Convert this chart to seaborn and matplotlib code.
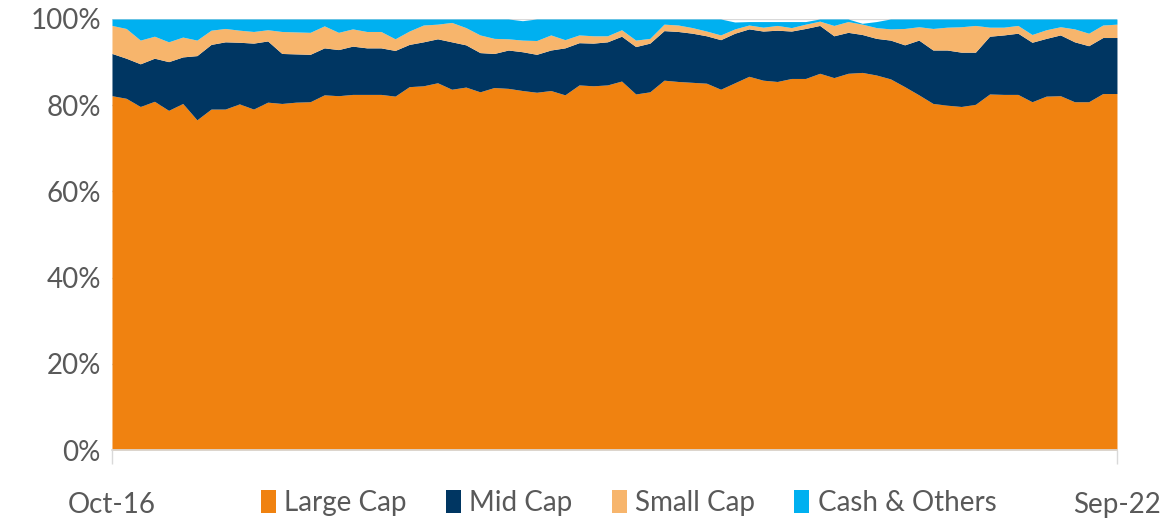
import numpy as np
import pandas as pd
import matplotlib
matplotlib.use("Agg")
import matplotlib.pyplot as plt
import seaborn as sns

# monthly portfolio mix, Oct-16 .. Sep-22 (% of assets)
months = pd.date_range("2016-10-01", periods=72, freq="MS")

large_cap = [82.2, 81.6, 79.7, 80.9, 78.8, 80.4, 76.6, 79.1, 79.1, 80.3, 79.1, 80.7,
             80.4, 80.7, 80.8, 82.4, 82.2, 82.5, 82.5, 82.5, 82.1, 84.3, 84.5, 85.2,
             83.7, 84.2, 83.1, 84.1, 83.9, 83.4, 83.0, 83.4, 82.4, 84.7, 84.5, 84.7,
             85.6, 82.6, 83.1, 85.8, 85.5, 85.3, 85.1, 83.7, 85.2, 86.7, 85.8, 85.5,
             86.2, 86.2, 87.4, 86.4, 87.4, 87.6, 87.0, 86.1, 84.3, 82.4, 80.4, 80.0,
             79.7, 80.2, 82.6, 82.5, 82.5, 80.8, 82.1, 82.2, 80.8, 80.8, 82.7, 82.7]
mid_cap = [9.8, 9.3, 9.9, 10.0, 11.3, 10.8, 14.9, 15.0, 15.6, 14.3, 15.3, 14.2,
           11.6, 11.2, 11.0, 10.9, 10.7, 11.2, 10.8, 10.8, 10.6, 9.8, 10.2, 10.2,
           11.0, 9.8, 9.1, 7.9, 8.9, 9.0, 8.8, 9.4, 10.9, 9.8, 9.9, 10.0,
           10.4, 11.0, 11.3, 11.5, 11.6, 11.4, 11.0, 11.5, 11.5, 11.0, 11.4, 11.9,
           11.0, 11.6, 11.1, 9.7, 9.5, 8.8, 8.5, 9.0, 9.7, 12.7, 12.4, 12.8,
           12.6, 12.1, 13.4, 13.8, 14.2, 13.8, 13.4, 14.1, 13.9, 13.0, 13.0, 13.0]
small_cap = [6.5, 6.9, 5.5, 5.1, 4.6, 4.6, 3.6, 3.3, 3.1, 2.8, 2.7, 2.6,
             5.1, 5.1, 5.1, 5.1, 4.0, 4.0, 3.8, 3.8, 2.7, 3.1, 3.9, 3.4,
             4.5, 4.0, 4.1, 3.5, 2.6, 2.7, 3.2, 3.5, 1.9, 1.8, 1.7, 1.4,
             1.5, 1.5, 1.1, 1.5, 1.5, 1.3, 1.1, 1.1, 1.0, 0.9, 0.9, 1.1,
             0.8, 1.0, 1.0, 2.4, 2.5, 2.4, 2.5, 2.6, 3.8, 3.1, 5.0, 5.3,
             5.9, 6.2, 2.1, 1.8, 1.8, 1.8, 2.0, 1.9, 3.0, 2.9, 2.9, 3.1]
cash_others = [1.5, 2.2, 4.9, 4.0, 5.3, 4.2, 4.9, 2.6, 2.2, 2.6, 2.9, 2.5,
               2.9, 3.0, 3.1, 1.6, 3.1, 2.3, 2.9, 2.9, 4.6, 2.8, 1.4, 1.2,
               0.8, 2.0, 3.7, 4.5, 4.6, 4.5, 5.0, 3.7, 4.8, 3.7, 3.9, 3.9,
               2.5, 4.9, 4.5, 1.2, 1.4, 2.0, 2.8, 3.7, 1.6, 0.8, 1.3, 0.9,
               1.4, 0.6, 0.5, 1.5, 0.6, 0.2, 1.4, 2.3, 2.2, 1.8, 2.2, 1.9,
               1.8, 1.5, 1.9, 1.9, 1.5, 3.6, 2.5, 1.8, 2.3, 3.3, 1.4, 1.2]

labels = ["Large Cap", "Mid Cap", "Small Cap", "Cash & Others"]
colors = ["#F08210", "#003662", "#F7B56C", "#00B0F0"]

df = pd.DataFrame({"Large Cap": large_cap, "Mid Cap": mid_cap,
                   "Small Cap": small_cap, "Cash & Others": cash_others}, index=months)

sns.set_theme(style="white")
plt.rcParams["font.family"] = ["Lato", "DejaVu Sans"]
txt = "#595959"

fig = plt.figure(figsize=(11.64, 5.2), dpi=100)
ax = fig.add_axes([0.0962, 0.1346, 0.8634, 0.8289])

x = np.arange(len(months))
ax.stackplot(x, *[df[c].values / 100 for c in labels], colors=colors, labels=labels,
             linewidth=0, zorder=2)

ax.set_xlim(0, len(months) - 1)
ax.set_ylim(0, 1)
ax.set_yticks(np.arange(0, 1.01, 0.2))
ax.set_yticklabels([f"{int(round(v * 100))}%" for v in np.arange(0, 1.01, 0.2)])
ax.set_axisbelow(True)
ax.yaxis.grid(True, color="#D9D9D9", linewidth=1)

ax.set_xticks([0, len(months) - 1])
ax.set_xticklabels([months[0].strftime("%b-%y"), months[-1].strftime("%b-%y")])
ax.tick_params(axis="x", length=10, width=1, color="#D9D9D9", pad=20,
               labelsize=20, labelcolor=txt, bottom=True)
ax.tick_params(axis="y", length=0, pad=8, labelsize=20, labelcolor=txt)

for s in ["top", "right", "left"]:
    ax.spines[s].set_visible(False)
ax.spines["bottom"].set_color("#D9D9D9")

fig.legend(loc="center", bbox_to_anchor=(0.54, 0.033), ncol=4, frameon=False,
           fontsize=20, labelcolor=txt, handlelength=0.55, handleheight=0.9,
           handletextpad=0.3, columnspacing=1.4)

fig.savefig("out.png", dpi=100)
